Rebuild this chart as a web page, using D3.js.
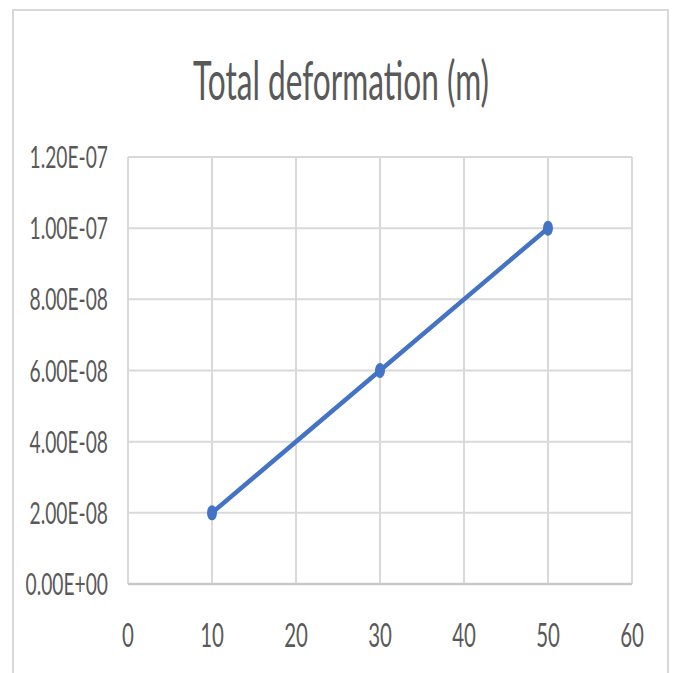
<!DOCTYPE html>
<html>
<head>
<meta charset="utf-8">
<script src="https://cdn.jsdelivr.net/npm/d3@7"></script>
<style>
  html, body { margin: 0; padding: 0; background: #fff; }
  svg { display: block; }
</style>
</head>
<body>
<svg id="chart" width="673" height="673"></svg>
<script>
const chartTitle = "Total deformation (m)";
const xValues = [10, 30, 50];
const yValues = [2e-8, 6e-8, 1e-7];
const xTicks = [0, 10, 20, 30, 40, 50, 60];
const yTicks = [0, 2e-8, 4e-8, 6e-8, 8e-8, 1e-7, 1.2e-7];
const yTickLabels = ["0.00E+00", "2.00E-08", "4.00E-08", "6.00E-08", "8.00E-08", "1.00E-07", "1.20E-07"];

const svg = d3.select("#chart");
const plot = { left: 128, right: 632, top: 157, bottom: 584 };
const fontFam = "Lato, 'Open Sans', sans-serif";
const sx = 0.62;

// outer chart border
svg.append("rect")
  .attr("x", 13).attr("y", 10)
  .attr("width", 655).attr("height", 680)
  .attr("fill", "#fff")
  .attr("stroke", "#d9d9d9").attr("stroke-width", 2);

const x = d3.scaleLinear().domain([0, 60]).range([plot.left, plot.right]);
const y = d3.scaleLinear().domain([0, 1.2e-7]).range([plot.bottom, plot.top]);

// gridlines
const grid = svg.append("g");
grid.selectAll("line.h").data(yTicks).join("line")
  .attr("x1", plot.left).attr("x2", plot.right)
  .attr("y1", d => y(d)).attr("y2", d => y(d))
  .attr("stroke", "#d9d9d9").attr("stroke-width", 2);
grid.selectAll("line.v").data(xTicks).join("line")
  .attr("y1", plot.top).attr("y2", plot.bottom)
  .attr("x1", d => x(d)).attr("x2", d => x(d))
  .attr("stroke", "#d9d9d9").attr("stroke-width", 2);
svg.append("line")
  .attr("x1", plot.left).attr("x2", plot.right)
  .attr("y1", y(0)).attr("y2", y(0))
  .attr("stroke", "#c8c8c8").attr("stroke-width", 2.5);

// y tick labels
svg.append("g").selectAll("text").data(yTicks).join("text")
  .attr("transform", d => `translate(108,${y(d) + 11}) scale(${sx},1)`)
  .attr("text-anchor", "end")
  .attr("font-family", fontFam)
  .attr("font-size", 31)
  .attr("fill", "#595959")
  .text((d, i) => yTickLabels[i]);

// x tick labels
svg.append("g").selectAll("text").data(xTicks).join("text")
  .attr("transform", d => `translate(${x(d)},${647}) scale(${sx},1)`)
  .attr("text-anchor", "middle")
  .attr("font-family", fontFam)
  .attr("font-size", 33)
  .attr("fill", "#595959")
  .text(d => d3.format("d")(d));

// title
svg.append("text")
  .attr("transform", `translate(341,100) scale(0.575,1)`)
  .attr("text-anchor", "middle")
  .attr("font-family", fontFam)
  .attr("font-size", 55)
  .attr("fill", "#595959")
  .text(chartTitle);

// series
const data = xValues.map((v, i) => ({ x: v, y: yValues[i] }));
const line = d3.line().x(d => x(d.x)).y(d => y(d.y));
svg.append("path")
  .datum(data)
  .attr("d", line)
  .attr("fill", "none")
  .attr("stroke", "#4472c4")
  .attr("stroke-width", 4.5)
  .attr("stroke-linecap", "round");
svg.append("g").selectAll("ellipse").data(data).join("ellipse")
  .attr("cx", d => x(d.x)).attr("cy", d => y(d.y))
  .attr("rx", 5).attr("ry", 7.5)
  .attr("fill", "#4472c4");
</script>
</body>
</html>
